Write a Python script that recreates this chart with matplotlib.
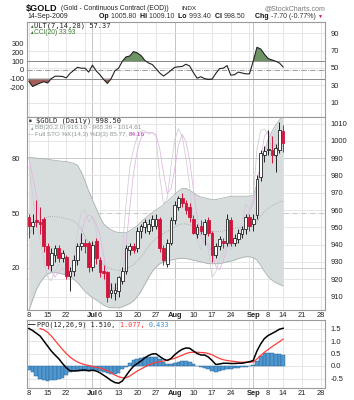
import matplotlib
matplotlib.use("Agg")
import matplotlib.pyplot as plt
import numpy as np
import pandas as pd

plt.rcParams["font.family"] = ["Liberation Sans", "DejaVu Sans"]

# trading days Jun 8 .. Sep 14 2009 (Jul 3 and Sep 7 closed), plus the empty weeks after
days = pd.bdate_range("2009-06-08", "2009-10-02")
days = days[~days.isin(pd.to_datetime(["2009-07-03", "2009-09-07"]))]
n_bars = 69

opens = [956, 951, 954, 953, 955, 939, 928, 934, 938, 932, 933, 922, 925, 931, 939, 941, 941, 927, 942, 931,
         925, 924, 912, 912, 913, 919, 925, 937, 939, 938, 948, 950, 948, 951, 951, 955, 938, 929, 941, 954,
         962, 967, 964, 962, 955, 946, 951, 946, 954, 947, 934, 939, 942, 941, 954, 941, 943, 946, 949, 956,
         952, 957, 979, 992, 995, 995, 992, 995, 1005.8]
highs = [958, 958, 966, 962, 956, 941, 938, 940, 940, 937, 934, 927, 934, 941, 947, 943, 942, 942, 944, 933,
         928, 925, 918, 918, 922, 927, 940, 941, 941, 950, 952, 955, 955, 957, 958, 956, 940, 943, 956, 965,
         968, 970, 966, 964, 957, 952, 954, 955, 956, 948, 941, 945, 944, 958, 956, 946, 949, 951, 958, 958,
         958, 980, 995, 997, 1006, 1003, 998, 1011, 1009.1]
lows = [944, 946, 950, 946, 936, 926, 925, 930, 930, 930, 920, 913, 922, 928, 937, 935, 924, 925, 929, 921,
        920, 907, 909, 908, 910, 917, 923, 934, 935, 936, 944, 947, 946, 948, 949, 936, 928, 927, 940, 952,
        960, 962, 958, 953, 946, 944, 946, 940, 945, 930, 932, 937, 938, 939, 939, 939, 941, 944, 946, 948,
        948, 955, 977, 988, 992, 987, 982, 993, 993.4]
closes = [951, 953, 953, 952, 939, 928, 935, 938, 932, 935, 922, 925, 931, 939, 941, 939, 927, 940, 932, 924,
          923.5, 910, 914, 914, 921, 925, 938, 939, 937, 948, 951, 953, 952, 955, 955, 938, 931, 941, 954, 963,
          967, 964, 960, 956, 947, 950, 948, 953, 947, 934, 939, 943, 941, 955, 941, 944, 947, 949, 956, 951,
          955, 978, 993, 994, 995.5, 992, 996, 1006, 998.5]

bb_upper = [990.5, 990.3, 990, 989.8, 989.6, 989.4, 989, 988.7, 988.4, 988.2, 988, 987.5, 987, 986, 982, 977,
            971, 966, 961, 956, 952, 950, 948.5, 947.5, 947, 947, 947, 948, 949.5, 951, 953, 955, 957, 958.5,
            960, 961.5, 963, 965, 967, 969, 971, 972.5, 972.5, 971.5, 970, 968.5, 967.5, 967, 966.5, 966, 966,
            966.5, 967, 967.5, 968, 968, 968, 968, 968, 968, 968.5, 975, 985, 994, 1001, 1005.5, 1009, 1012,
            1014.61]
bb_mid = [946, 949, 952, 954, 955, 956, 956.5, 956, 956, 955.5, 955, 954.5, 953.5, 952, 949, 945, 941, 938,
          934.5, 931, 928.5, 927, 926, 925.5, 925, 925.5, 926, 927, 928.5, 930.5, 933, 936, 939, 941.5, 943.5,
          945, 946.5, 947.5, 949, 950, 951.5, 952, 952, 951.5, 950.5, 949.5, 948.5, 948, 948, 947.5, 947.5,
          947.5, 948, 948.5, 949, 949.5, 950, 950, 950.5, 950.5, 950.5, 953, 956.5, 959, 961, 962.5, 963.5,
          964.5, 965.36]
bb_lower = [902, 908, 914, 918, 921, 923, 924, 924, 923.5, 923, 922.5, 921.5, 920, 918, 915.5, 913, 911, 909.5,
            908, 906.5, 905, 904, 903.5, 903.5, 903.5, 904, 905, 906, 907.5, 910, 913, 917, 921, 924.5, 927,
            929, 930, 930.5, 931, 931.5, 932, 932, 932, 931.5, 931, 930.5, 930, 929.5, 929, 929, 929, 929,
            929.5, 930, 930.5, 931, 932, 932.5, 933, 933, 932.5, 931, 928, 924.5, 921.5, 919.5, 918, 917, 916.1]

sto_k = [75, 60, 45, 35, 25, 15, 13, 18, 22, 20, 15, 14, 25, 40, 50, 52, 45, 48, 40, 25, 15, 8, 7, 9, 15, 30,
         55, 75, 85, 92, 95, 95, 93, 94, 92, 70, 55, 58, 75, 90, 96, 92, 80, 65, 45, 35, 30, 38, 30, 15, 18, 25,
         28, 40, 30, 33, 38, 45, 55, 52, 58, 85, 95, 96, 93, 85, 80, 90, 85.77]
sto_d = [80, 70, 60, 47, 35, 25, 18, 15, 18, 20, 19, 16, 18, 26, 38, 47, 49, 48, 44, 38, 27, 16, 10, 8, 10, 18,
         33, 53, 72, 84, 91, 94, 94, 94, 93, 85, 72, 61, 63, 74, 87, 93, 89, 79, 63, 48, 37, 34, 33, 28, 21, 19,
         24, 31, 33, 34, 34, 39, 46, 51, 55, 65, 79, 92, 95, 91, 86, 85, 84.16]

cci = [-130, -190, -170, -150, -135, -150, -100, -72, -72, -75, -92, -40, -5, 30, 20, 20, -25, 55, -10, -55,
       -110, -155, -100, -10, 20, 100, 150, 160, 210, 195, 165, 110, 80, 62, 15, -35, -70, -40, -5, 30, 36,
       40, 65, 45, -30, -95, -78, -100, -110, -105, -40, 15, 20, 50, -60, -55, -25, -35, -45, -45, 100, 260,
       240, 180, 130, 115, 100, 80, 33.93]

ppo = [1.50, 1.42, 1.31, 1.2, 1.0, 0.8, 0.6, 0.44, 0.29, 0.1, -0.07, -0.19, -0.2, -0.19, -0.17, -0.16, -0.19,
       -0.17, -0.2, -0.27, -0.37, -0.47, -0.58, -0.66, -0.69, -0.6, -0.39, -0.18, -0.01, 0.1, 0.2, 0.32, 0.42,
       0.48, 0.49, 0.38, 0.28, 0.22, 0.3, 0.45, 0.57, 0.67, 0.72, 0.71, 0.6, 0.5, 0.44, 0.44, 0.36, 0.22, 0.06,
       0.08, 0.11, 0.11, 0.1, 0.1, 0.11, 0.11, 0.14, 0.17, 0.22, 0.6, 0.88, 1.1, 1.22, 1.3, 1.38, 1.47, 1.51]
ppo_signal = [np.nan, np.nan, np.nan, 1.5, 1.45, 1.35, 1.2, 1.02, 0.84, 0.66, 0.5, 0.36, 0.25, 0.16, 0.1, 0.05,
              0.02, -0.02, -0.05, -0.08, -0.13, -0.19, -0.27, -0.36, -0.43, -0.47, -0.47, -0.4, -0.3, -0.2,
              -0.12, -0.04, 0.04, 0.1, 0.14, 0.17, 0.2, 0.23, 0.27, 0.31, 0.37, 0.43, 0.5, 0.54, 0.55, 0.55,
              0.54, 0.53, 0.5, 0.45, 0.37, 0.3, 0.25, 0.22, 0.2, 0.18, 0.16, 0.15, 0.15, 0.15, 0.16, 0.28, 0.42,
              0.55, 0.66, 0.77, 0.87, 0.97, 1.077]
ppo_hist = [-0.15, -0.22, -0.38, -0.5, -0.57, -0.58, -0.57, -0.54, -0.52, -0.47, -0.35, -0.23, -0.21, -0.2,
            -0.19, -0.18, -0.2, -0.17, -0.17, -0.2, -0.24, -0.28, -0.3, -0.3, -0.26, -0.12, -0.02, 0.12, 0.24,
            0.29, 0.32, 0.36, 0.38, 0.38, 0.37, 0.27, 0.16, 0.1, 0.1, 0.14, 0.18, 0.2, 0.19, 0.16, 0.08, 0.02,
            -0.03, -0.06, -0.12, -0.18, -0.22, -0.18, -0.14, -0.12, -0.11, -0.09, -0.06, -0.04, -0.02, 0.01,
            0.04, 0.2, 0.42, 0.52, 0.54, 0.52, 0.5, 0.5, 0.433]

# date axis labels (date, text, bold)
tick_labels = [("2009-06-08", "8", False), ("2009-06-15", "15", False), ("2009-06-22", "22", False),
               ("2009-07-01", "Jul", True), ("2009-07-06", "6", False), ("2009-07-13", "13", False),
               ("2009-07-20", "20", False), ("2009-07-27", "27", False), ("2009-08-03", "Aug", True),
               ("2009-08-10", "10", False), ("2009-08-17", "17", False), ("2009-08-24", "24", False),
               ("2009-09-01", "Sep", True), ("2009-09-08", "8", False), ("2009-09-14", "14", False),
               ("2009-09-21", "21", False), ("2009-09-28", "28", False)]
week_lines = ["2009-06-08", "2009-06-15", "2009-06-22", "2009-06-29", "2009-07-06", "2009-07-13",
              "2009-07-20", "2009-07-27", "2009-08-03", "2009-08-10", "2009-08-17", "2009-08-24",
              "2009-08-31", "2009-09-08", "2009-09-14", "2009-09-21", "2009-09-28"]
month_lines = ["2009-07-01", "2009-08-03", "2009-09-01"]

RED = "#d0143c"
GRID = "#e2e2e2"
FRAME = "#9a9a9a"
FS = 5.4
MONO = "DejaVu Sans Mono"

x = np.arange(n_bars)
pos = {d: i for i, d in enumerate(days.strftime("%Y-%m-%d"))}
o, h, l, c = map(np.array, (opens, highs, lows, closes))


def px(xp, yp):
    return xp / 354, 1 - yp / 400


fig = plt.figure(figsize=(3.54, 4.0), dpi=100)
renderer = fig.canvas.get_renderer()


def seq_text(xp, yp, parts, **kw):
    # write text pieces one after the other on a line, each with its own style
    for t, style in parts:
        opts = dict(kw)
        opts.update(style)
        txt = fig.text(*px(xp, yp), t, va="center", **opts)
        xp += txt.get_window_extent(renderer).width


ax_top = fig.add_axes([27 / 354, 1 - 117 / 400, 298 / 354, 95 / 400])
ax_main = fig.add_axes([27 / 354, 1 - 310 / 400, 298 / 354, 193 / 400])
ax_ppo = fig.add_axes([27 / 354, 1 - 388 / 400, 298 / 354, 68 / 400])

for ax in (ax_top, ax_main, ax_ppo):
    ax.set_xlim(-0.5, 79.2)
    for s in ax.spines.values():
        s.set_color(FRAME)
        s.set_linewidth(0.8)
    for d in week_lines:
        ax.axvline(pos[d], color=GRID, lw=0.6, zorder=0)
    for d in month_lines:
        ax.axvline(pos[d], color="#c4c4c4", lw=0.7, zorder=0)
    ax.tick_params(length=0, labelsize=FS, pad=2, colors="#222222")

# ---- top panel: CCI / ULT
cci_a = np.array(cci)
ax_top.set_ylim(-540, 550)
ax_top.set_yticks([300, 200, 100, 0, -100, -200])
ax_top.set_yticklabels(["300", "200", "100", "0", "-100", "-200"])
ax_top.set_xticks([])
ult = ax_top.secondary_yaxis("right", functions=(lambda v: 47.7 + v / 10, lambda u: (u - 47.7) * 10))
ult.set_yticks([10, 30, 50, 70, 90])
ult.tick_params(length=0, labelsize=FS, pad=4, colors="#222222")
ult.spines["right"].set_visible(False)
for u in [10, 30, 50, 70, 90]:
    ax_top.axhline((u - 47.7) * 10, color=GRID, lw=0.6, zorder=0)
ax_top.axhline(100, color="#8a8a8a", lw=0.7)
ax_top.axhline(-100, color="#8a8a8a", lw=0.7)
ax_top.axhline(0, color="#8a8a8a", lw=0.6, ls="-.")
ax_top.fill_between(x, cci_a, 100, where=cci_a > 100, interpolate=True, color="#6e9466", lw=0)
ax_top.fill_between(x, cci_a, -100, where=cci_a < -100, interpolate=True, color="#a35f5a", lw=0)
ax_top.plot(x, cci_a, color="#222222", lw=0.8)

# ---- main panel: price, BB, stochastics
ax_main.set_ylim(902.2, 1013.8)
ax_main.set_yticks(np.arange(910, 1011, 10))
ax_main.yaxis.tick_right()
ax_main.tick_params(axis="y", pad=4)
ax_main.set_xticks([pos[d] for d, t, b in tick_labels])
ax_main.set_xticklabels([t for d, t, b in tick_labels])
for lab, (d, t, b) in zip(ax_main.get_xticklabels(), tick_labels):
    if b:
        lab.set_fontweight("bold")
ax_main.tick_params(axis="x", pad=1.5)
for p in np.arange(910, 1011, 10):
    ax_main.axhline(p, color=GRID, lw=0.6, zorder=0)


def s2p(s):
    return 926.5 + (np.asarray(s) - 20) * 1.0583


def p2s(p):
    return (np.asarray(p) - 926.5) / 1.0583 + 20


sto_ax = ax_main.secondary_yaxis("left", functions=(p2s, s2p))
sto_ax.set_yticks([20, 50, 80])
sto_ax.tick_params(length=0, labelsize=FS, pad=5, colors="#222222")
sto_ax.spines["left"].set_visible(False)
ax_main.axhline(s2p(80), color="#c8c8c8", lw=0.6, zorder=0)
ax_main.axhline(s2p(20), color="#c8c8c8", lw=0.6, zorder=0)
ax_main.axhline(s2p(50), color="#bdbdbd", lw=0.6, ls="-.", zorder=0)

ax_main.fill_between(x, bb_lower, bb_upper, color="#d7dddd", lw=0, zorder=1)
ax_main.plot(x, bb_upper, color="#aab3b3", lw=0.6, zorder=1.5)
ax_main.plot(x, bb_lower, color="#aab3b3", lw=0.6, zorder=1.5)
ax_main.plot(x, bb_mid, color="#9aa0a0", lw=0.6, ls=":", zorder=1.5)
ax_main.plot(x, s2p(sto_k), color="#cdcdd4", lw=0.55, zorder=2)
ax_main.plot(x, s2p(sto_d), color="#e0b4e2", lw=0.55, zorder=2)

up = c >= o
ax_main.vlines(x[up], l[up], h[up], color="#222222", lw=0.7, zorder=3)
ax_main.vlines(x[~up], l[~up], h[~up], color=RED, lw=0.7, zorder=3)
ax_main.bar(x[up], np.maximum(np.abs(c - o)[up], 0.4), bottom=np.minimum(o, c)[up], width=0.72,
            facecolor="white", edgecolor="#222222", lw=0.6, zorder=4)
ax_main.bar(x[~up], np.abs(c - o)[~up], bottom=np.minimum(o, c)[~up], width=0.72,
            facecolor=RED, edgecolor=RED, lw=0.6, zorder=4)

# ---- PPO panel
ax_ppo.set_ylim(-0.88, 1.84)
ax_ppo.set_yticks([1.5, 1.0, 0.5, 0.0, -0.5])
ax_ppo.set_yticklabels(["1.5", "1.0", "0.5", "0.0", "-0.5"])
ax_ppo.yaxis.tick_right()
ax_ppo.tick_params(axis="y", pad=4)
for v in [1.5, 1.0, 0.5, 0.0, -0.5]:
    ax_ppo.axhline(v, color=GRID, lw=0.6, zorder=0)
ax_ppo.set_xticks([pos[d] for d, t, b in tick_labels])
ax_ppo.set_xticklabels([t for d, t, b in tick_labels])
for lab, (d, t, b) in zip(ax_ppo.get_xticklabels(), tick_labels):
    if b:
        lab.set_fontweight("bold")
ax_ppo.tick_params(axis="x", pad=1.5)
ax_ppo.bar(x, ppo_hist, width=1.0, color="#4f97cf", edgecolor="#2a6a9c", lw=0.35, zorder=2)
ax_ppo.plot(x, ppo_signal, color="#ff3b3b", lw=0.9, zorder=3)
ax_ppo.plot(x, ppo, color="black", lw=1.1, zorder=4)

# ---- header texts
fig.text(*px(26, 8), "$GOLD", fontsize=6.6, fontweight="bold", va="center", color="#111111")
fig.text(*px(61, 8.5), "(Gold - Continuous Contract (EOD))", fontsize=4.9, va="center", color="#222222")
fig.text(*px(181, 8.5), "INDX", fontsize=4.6, va="center", color="#222222")
fig.text(*px(325, 8.5), "@StockCharts.com", fontsize=5, va="center", ha="right", color="#777777")
fig.text(*px(27, 16.5), "14-Sep-2009", fontsize=5, va="center", color="#222222")
B = {"fontweight": "bold", "color": "#111111"}
N = {"color": "#333333"}
seq_text(99, 16.5, [("Op ", B), ("1005.80  ", N), ("Hi ", B), ("1009.10  ", N), ("Lo ", B),
                    ("993.40  ", N), ("Cl ", B), ("998.50", N)], fontsize=5)
seq_text(255, 16.5, [("Chg ", B), ("-7.70 (-0.77%) ", N), ("\u25bc", {"color": RED, "fontsize": 3.6})],
         fontsize=5)

# legends inside panels
fig.text(*px(29, 26), "\u25b2", fontsize=3.3, va="center", color="#3c7a32")
fig.text(*px(29, 32.5), "\u25b2", fontsize=3.3, va="center", color="#3c7a32")
fig.text(*px(34, 26), "ULT(7,14,28) 57.37", fontsize=5, va="center", color="#222222", family=MONO)
fig.text(*px(34, 32.5), "CCI(20) 33.93", fontsize=4.8, va="center", color="#3c7a32")

fig.text(*px(29, 121), "\u25a0", fontsize=3.3, va="center", color="#333333")
fig.text(*px(36, 121), "$GOLD (Daily) 998.50", fontsize=5, va="center", color="#222222", family=MONO)
fig.text(*px(29, 128), "\u25b2", fontsize=3.3, va="center", color="#9aa0a0")
fig.text(*px(35, 128), "BB(20,2.0) 916.10 - 965.36 - 1014.61", fontsize=4.6, va="center", color="#8c9494")
fig.text(*px(28.5, 134.5), "\u2014", fontsize=4.5, va="center", color="#9aa0a0")
seq_text(35, 134.5, [("Full STO %K(14,3) %D(3) 85.77, ", {"color": "#8c9494"}),
                     ("84.16", {"color": "#b030b0"})], fontsize=4.6)

fig.text(*px(28.5, 325), "\u2014", fontsize=5.5, va="center", color="black", fontweight="bold")
seq_text(37, 325, [("PPO(12,26,9) 1.510, ", {"color": "#222222"}), ("1.077, ", {"color": "#ff3030"}),
                   ("0.433", {"color": "#3a8cc8"})], fontsize=4.9, family=MONO)

fig.savefig("out.png", dpi=100)
